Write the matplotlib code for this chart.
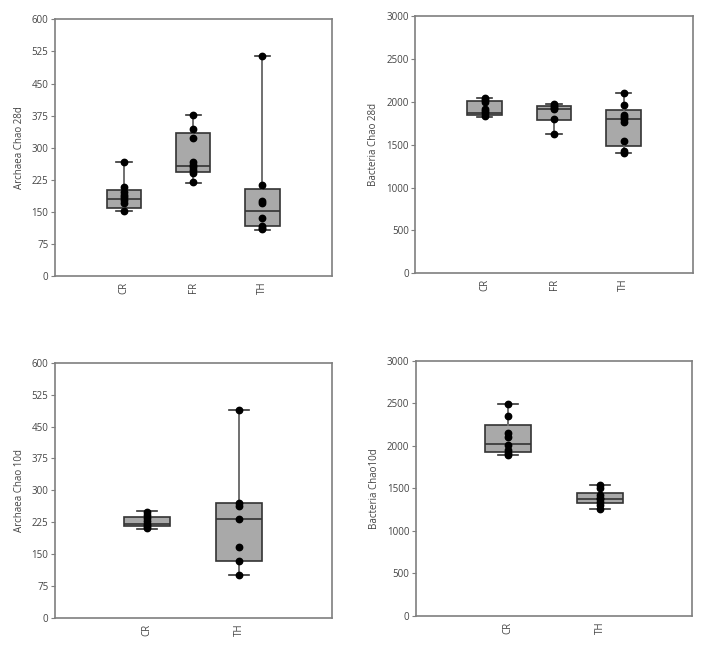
import matplotlib
matplotlib.use("Agg")
import matplotlib.pyplot as plt

# ---------------- data ----------------
cats_28d = ["CR", "FR", "TH"]
cats_10d = ["CR", "TH"]

# box stats: [whisker low, q1, median, q3, whisker high]
arch28_stats = [[151, 160, 181, 201, 266],
                [218, 244, 256, 334, 376],
                [108, 118, 153, 203, 515]]
arch28_pts = [[266, 209, 196, 189, 184, 178, 170, 152],
              [376, 344, 323, 267, 260, 254, 247, 240, 219],
              [514, 213, 175, 170, 136, 117, 113, 109]]

bact28_stats = [[1826, 1843, 1870, 2013, 2048],
                [1622, 1790, 1912, 1951, 1974],
                [1400, 1484, 1800, 1904, 2106]]
bact28_pts = [[2045, 2020, 2000, 1920, 1890, 1870, 1830],
              [1975, 1950, 1925, 1910, 1795, 1620],
              [2106, 1965, 1846, 1820, 1795, 1760, 1543, 1420, 1400]]

arch10_stats = [[209, 216, 221, 238, 251],
                [101, 135, 232, 270, 489]]
arch10_pts = [[250, 242, 235, 228, 222, 217, 212],
              [489, 270, 263, 232, 168, 135, 101]]

bact10_stats = [[1890, 1923, 2020, 2250, 2493],
                [1255, 1324, 1380, 1449, 1542]]
bact10_pts = [[2490, 2355, 2145, 2100, 2010, 1950, 1920, 1890],
              [1545, 1500, 1420, 1390, 1370, 1340, 1300, 1255]]

ylabels = ["Archaea Chao 28d", "Bacteria Chao 28d", "Archaea Chao 10d", "Bacteria Chao10d"]
arch_ticks = [0, 75, 150, 225, 300, 375, 450, 525, 600]
bact_ticks = [0, 500, 1000, 1500, 2000, 2500, 3000]

# ---------------- drawing ----------------
plt.rcParams['font.family'] = ['Open Sans', 'DejaVu Sans']
fig = plt.figure(figsize=(7.08, 6.47), dpi=100)

rects = [[0.0773, 0.5734, 0.391, 0.3967],
         [0.5862, 0.5776, 0.3927, 0.3977],
         [0.0773, 0.0448, 0.391, 0.3946],
         [0.5871, 0.0479, 0.3907, 0.3946]]

panels = [(cats_28d, arch28_stats, arch28_pts, arch_ticks, 600),
          (cats_28d, bact28_stats, bact28_pts, bact_ticks, 3000),
          (cats_10d, arch10_stats, arch10_pts, arch_ticks, 600),
          (cats_10d, bact10_stats, bact10_pts, bact_ticks, 3000)]

spine_col = "#7f7f7f"
text_col = "#444444"

for rect, (cats, stats, pts, ticks, ymax), ylab in zip(rects, panels, ylabels):
    ax = fig.add_axes(rect)
    bstats = []
    for c, s in zip(cats, stats):
        bstats.append(dict(label=c, whislo=s[0], q1=s[1], med=s[2], q3=s[3],
                           whishi=s[4], fliers=[]))
    pos = list(range(1, len(cats) + 1))
    ax.bxp(bstats, positions=pos, widths=0.5, patch_artist=True, showfliers=False,
           capwidths=0.22,
           boxprops=dict(facecolor="#a9a9a9", edgecolor="#333333", linewidth=1.2),
           medianprops=dict(color="#333333", linewidth=1.2),
           whiskerprops=dict(color="#707070", linewidth=1.4),
           capprops=dict(color="#333333", linewidth=1.2))
    for p, vals in zip(pos, pts):
        ax.plot([p] * len(vals), vals, "o", color="black", markersize=4.6,
                linestyle="none", zorder=5)
    ax.set_xlim(0, len(cats) + 1)
    ax.set_ylim(0, ymax)
    ax.set_yticks(ticks)
    ax.set_xticks(pos)
    ax.set_xticklabels(cats, rotation=90, fontsize=7, color=text_col)
    ax.tick_params(axis="x", length=0, pad=4)
    ax.tick_params(axis="y", length=3, color=spine_col, labelsize=7,
                   labelcolor=text_col, pad=1.5)
    ax.set_ylabel(ylab, fontsize=7, color=text_col, labelpad=5)
    for sp in ax.spines.values():
        sp.set_color(spine_col)
        sp.set_linewidth(1.2)

fig.savefig("out.png", dpi=100)
